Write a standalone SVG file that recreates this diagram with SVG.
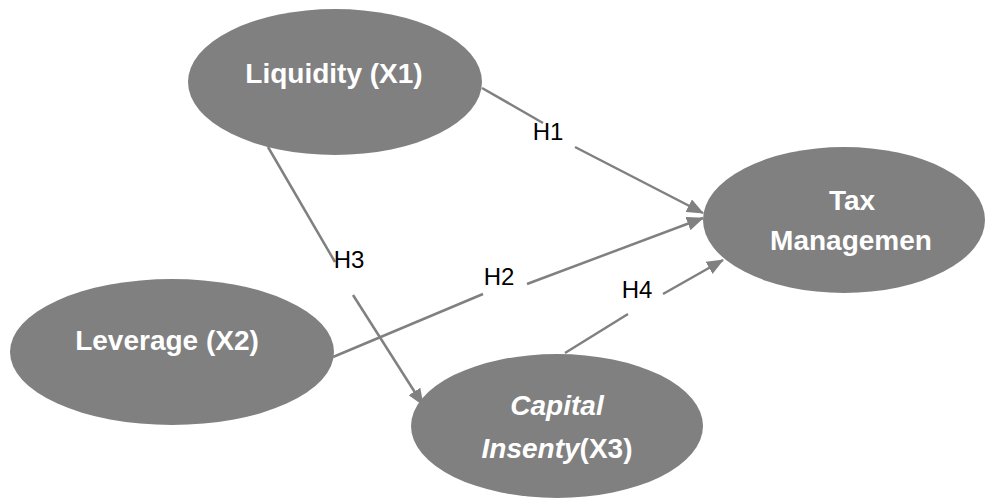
<svg xmlns="http://www.w3.org/2000/svg" width="986" height="498" viewBox="0 0 986 498">
<defs>
<style>
.node{fill:#808080;}
.nt{font-family:"Liberation Sans",Arial,sans-serif;font-weight:bold;font-size:28px;fill:#ffffff;text-anchor:middle;}
.it{font-style:italic;}
.lbl{font-family:"Liberation Sans",Arial,sans-serif;font-size:24px;fill:#000000;text-anchor:middle;}
.edge{stroke:#808080;stroke-width:2.5;fill:none;}
</style>
<marker id="arr" markerUnits="userSpaceOnUse" markerWidth="17" markerHeight="14" refX="16" refY="7" orient="auto">
<path d="M0,0 L17,7 L0,14 Z" fill="#808080"/>
</marker>
</defs>
<rect width="986" height="498" fill="#ffffff"/>
<g id="connectors">
<g id="h1">
<line class="edge" x1="482" y1="88" x2="543" y2="123"/>
<line class="edge" x1="575" y1="147" x2="703" y2="213" marker-end="url(#arr)"/>
<text class="lbl" x="548" y="140">H1</text>
</g>
<g id="h2">
<line class="edge" x1="333" y1="357" x2="483" y2="294"/>
<line class="edge" x1="527" y1="284" x2="703" y2="218" marker-end="url(#arr)"/>
<text class="lbl" x="499" y="285">H2</text>
</g>
<g id="h3">
<line class="edge" x1="268" y1="147" x2="335" y2="262"/>
<line class="edge" x1="353" y1="295" x2="423" y2="405" marker-end="url(#arr)"/>
<text class="lbl" x="349" y="268">H3</text>
</g>
<g id="h4">
<line class="edge" x1="565" y1="353" x2="628" y2="314"/>
<line class="edge" x1="663" y1="294" x2="723" y2="260" marker-end="url(#arr)"/>
<text class="lbl" x="637" y="298">H4</text>
</g>
</g>
<g id="liquidity">
<ellipse class="node" cx="335" cy="82" rx="147" ry="73"/>
<text class="nt" x="334" y="83">Liquidity (X1)</text>
</g>
<g id="leverage">
<ellipse class="node" cx="172" cy="352" rx="162" ry="73"/>
<text class="nt" x="167" y="350">Leverage (X2)</text>
</g>
<g id="tax">
<ellipse class="node" cx="844" cy="220" rx="141" ry="73"/>
<text class="nt" x="852" y="210">Tax</text>
<text class="nt" x="851" y="250">Managemen</text>
</g>
<g id="capital">
<ellipse class="node" cx="557" cy="426" rx="146" ry="72"/>
<text class="nt it" x="557" y="415">Capital</text>
<text class="nt" x="557" y="458"><tspan class="it">Insenty</tspan>(X3)</text>
</g>
</svg>
